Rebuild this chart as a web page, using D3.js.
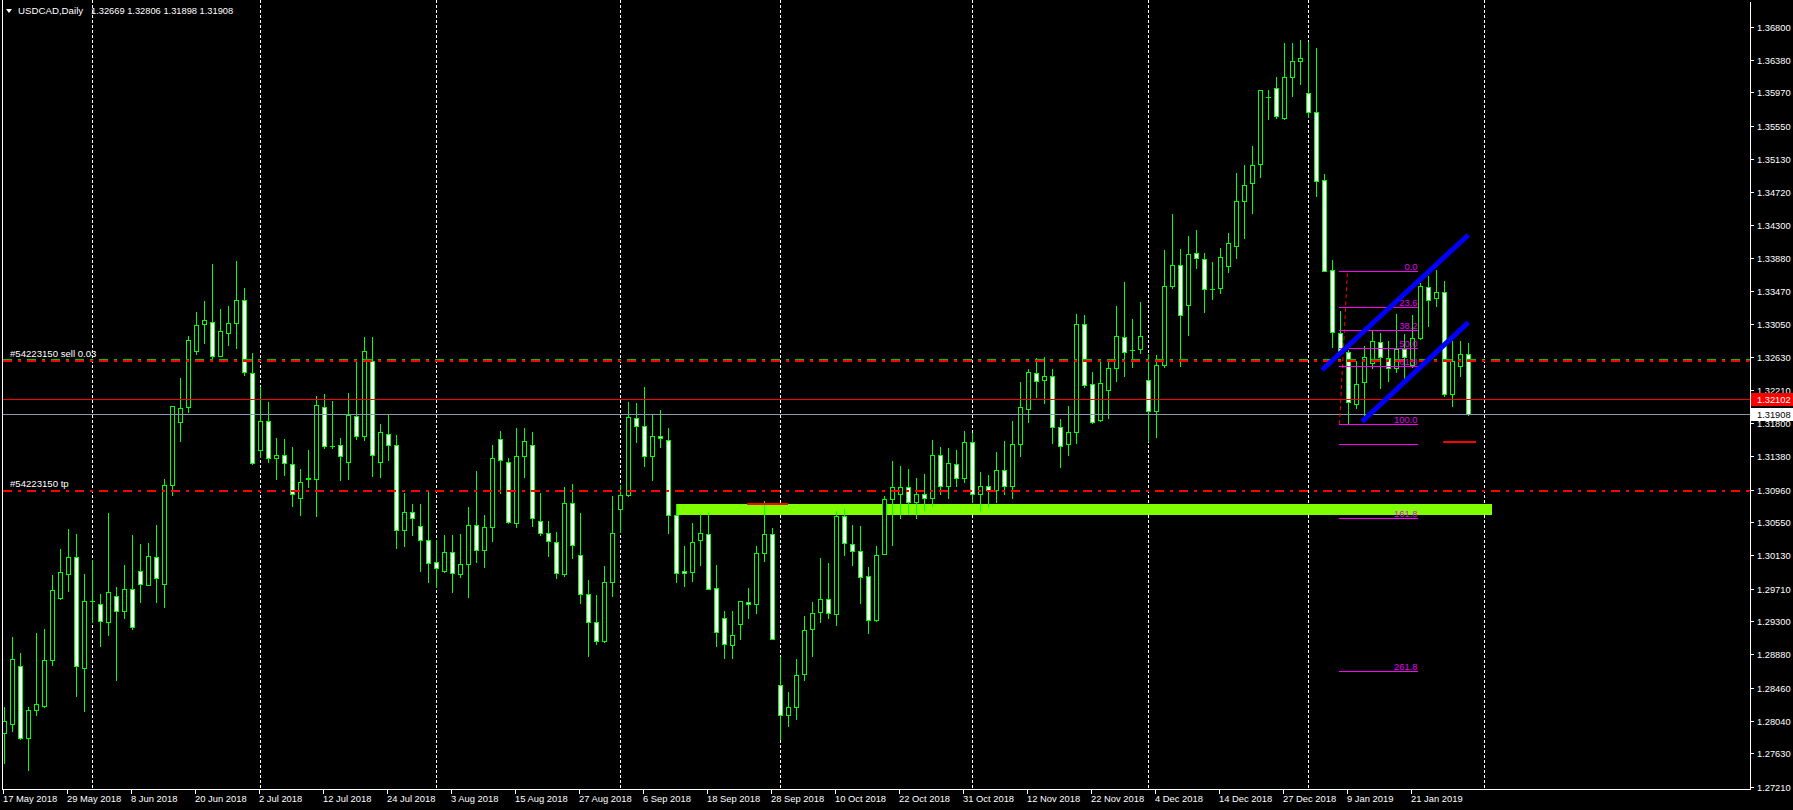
<!DOCTYPE html>
<html><head><meta charset="utf-8">
<script src="https://cdn.jsdelivr.net/npm/d3@7"></script>
<style>
html,body{margin:0;padding:0;background:#000;overflow:hidden}
svg{display:block}
text{font-family:"Liberation Sans",Arial,sans-serif}
</style>
</head><body>
<svg id="c" width="1793" height="810"></svg>
<script>
// ---------------- data ----------------
const open = [1.27886,1.28003,1.28729,1.27829,1.28173,1.28234,1.28803,1.29589,1.29889,1.30106,
1.28712,1.29550,1.29511,1.29285,1.29611,1.29424,1.29702,1.29928,1.29750,1.30106,
1.29763,1.31015,1.31810,1.32005,1.32714,1.33044,1.33070,1.32640,1.32931,1.33057,
1.33348,1.32427,1.31458,1.31823,1.31362,1.31393,1.31280,1.30850,1.31089,1.31089,
1.31997,1.31506,1.31519,1.31301,1.31884,1.31640,1.32583,1.31301,1.31658,1.31519,
1.30445,1.30671,1.30497,1.30319,1.30041,1.29936,1.30168,1.29890,1.30016,1.30508,
1.30193,1.30483,1.31593,1.31303,1.30534,1.31379,1.31518,1.30559,1.30407,1.30294,
1.29890,1.30786,1.30130,1.29638,1.29284,1.29053,1.29789,1.30710,1.30895,1.31858,
1.31757,1.31379,1.31631,1.31581,1.30635,1.29928,1.29915,1.30319,1.30395,1.29713,
1.29335,1.28994,1.29259,1.29537,1.29511,1.30155,1.30395,1.28489,1.28111,1.28212,
1.28628,1.29196,1.29419,1.29575,1.29394,1.30630,1.30269,1.30180,1.29865,1.29318,
1.30142,1.30836,1.30900,1.30990,1.30800,1.30900,1.30850,1.31400,1.31000,1.31280,
1.31100,1.31560,1.30900,1.31000,1.30950,1.31210,1.31000,1.31530,1.31972,1.32426,
1.32338,1.32388,1.31753,1.31530,1.31690,1.33044,1.32287,1.31842,1.32212,1.32489,
1.32880,1.32721,1.32729,1.32338,1.31947,1.32527,1.33524,1.33789,1.33284,1.33940,
1.33865,1.33486,1.33499,1.33776,1.34029,1.34597,1.34824,1.35063,1.35913,1.36022,
1.35652,1.36161,1.36363,1.35959,1.35719,1.34861,1.33726,1.32935,1.32691,1.32035,
1.32313,1.32552,1.32817,1.32615,1.32489,1.32729,1.32527,1.32868,1.33511,1.33373,
1.33448,1.32161,1.32515,1.32669];
const high = [1.28216,1.29098,1.28903,1.28220,1.29155,1.29198,1.29885,1.30211,1.30467,1.30402,
1.29893,1.30067,1.29641,1.30663,1.29728,1.30011,1.30385,1.30276,1.30284,1.30511,
1.31097,1.32020,1.32362,1.32892,1.33196,1.33335,1.33804,1.33239,1.33274,1.33839,
1.33500,1.32683,1.32249,1.32066,1.31610,1.31597,1.31497,1.31219,1.31458,1.32140,
1.32166,1.32079,1.31610,1.32179,1.32596,1.32883,1.32883,1.31784,1.31905,1.31645,
1.30915,1.30776,1.30776,1.30954,1.30328,1.30386,1.30386,1.30399,1.30740,1.31194,
1.30635,1.31522,1.31699,1.31358,1.31736,1.31736,1.31686,1.30916,1.30563,1.30424,
1.30988,1.31030,1.30664,1.29818,1.29629,1.29995,1.30878,1.31013,1.32065,1.32052,
1.32254,1.31905,1.31964,1.31736,1.30777,1.30247,1.30542,1.30647,1.30668,1.30008,
1.29427,1.29427,1.29549,1.29722,1.30247,1.30811,1.30475,1.28851,1.28405,1.28822,
1.29364,1.29541,1.30096,1.30033,1.30685,1.30714,1.30508,1.30496,1.29978,1.30247,
1.30878,1.31320,1.31257,1.31219,1.31100,1.31150,1.31585,1.31500,1.31480,1.31459,
1.31699,1.31669,1.31177,1.31143,1.31430,1.31572,1.31825,1.32313,1.32481,1.32615,
1.32628,1.32477,1.31850,1.32014,1.33175,1.33162,1.32447,1.32594,1.32607,1.33276,
1.33579,1.33112,1.33326,1.32670,1.32658,1.33982,1.34437,1.33995,1.34159,1.34235,
1.33945,1.33831,1.34008,1.34193,1.34954,1.35055,1.35295,1.36000,1.36001,1.36165,
1.36594,1.36594,1.36632,1.36607,1.36531,1.34941,1.33856,1.33213,1.32716,1.32586,
1.32767,1.32960,1.32935,1.32830,1.33175,1.32918,1.33162,1.33562,1.33654,1.33730,
1.33591,1.32834,1.32834,1.32806];
const low = [1.27503,1.27916,1.27808,1.27417,1.28112,1.28220,1.28751,1.29580,1.29676,1.28351,
1.28168,1.29285,1.28990,1.29124,1.28559,1.29342,1.29198,1.29546,1.29750,1.29546,
1.29481,1.30893,1.31575,1.31944,1.32675,1.32814,1.32609,1.32640,1.32783,1.32749,
1.32401,1.31284,1.31371,1.31306,1.31097,1.31141,1.30754,1.30641,1.30997,1.30632,
1.31480,1.31488,1.31084,1.31097,1.31597,1.31588,1.31132,1.31119,1.31336,1.30228,
1.30241,1.30389,1.29937,1.29798,1.29733,1.29924,1.29671,1.29861,1.29608,1.30050,
1.29987,1.30315,1.30917,1.30542,1.30491,1.31122,1.30504,1.30382,1.30126,1.29848,
1.29873,1.30100,1.29524,1.28864,1.29015,1.29032,1.29621,1.30420,1.30883,1.31564,
1.31261,1.31085,1.31501,1.30416,1.29797,1.29747,1.29810,1.30012,1.29701,1.28990,
1.28839,1.28839,1.29078,1.29343,1.29406,1.30062,1.29070,1.27816,1.27981,1.28060,
1.28561,1.28864,1.29293,1.29343,1.29255,1.30138,1.30008,1.29533,1.29154,1.29305,
1.30142,1.30264,1.30600,1.30650,1.30600,1.30700,1.30750,1.30900,1.30850,1.31000,
1.31050,1.30800,1.30700,1.30750,1.30800,1.30900,1.30850,1.31387,1.31816,1.32132,
1.32056,1.31543,1.31249,1.31396,1.31543,1.32258,1.31804,1.31825,1.31858,1.32334,
1.32397,1.32510,1.32679,1.31576,1.31627,1.32510,1.33499,1.32523,1.32914,1.33759,
1.33204,1.33368,1.33436,1.33709,1.33886,1.34138,1.34445,1.34908,1.35631,1.35652,
1.35640,1.35930,1.36073,1.35665,1.34668,1.33713,1.32763,1.32680,1.31787,1.31993,
1.31837,1.32489,1.32245,1.32334,1.32447,1.32342,1.32502,1.32859,1.33028,1.33280,
1.32144,1.32018,1.32388,1.31898];
const close = [1.28034,1.28816,1.27829,1.28173,1.28251,1.28807,1.29689,1.29915,1.30106,1.28729,
1.29550,1.29550,1.29298,1.29663,1.29424,1.29702,1.29229,1.29763,1.30119,1.29841,
1.31023,1.32010,1.31984,1.32844,1.33031,1.33096,1.32640,1.32957,1.33061,1.33348,
1.32444,1.31297,1.31823,1.31362,1.31393,1.31293,1.30902,1.31054,1.31106,1.32023,
1.31514,1.31506,1.31380,1.31901,1.31640,1.32705,1.31393,1.31684,1.31519,1.30445,
1.30680,1.30597,1.30319,1.30037,1.29967,1.30168,1.29903,1.30016,1.30508,1.30193,
1.30483,1.31354,1.31328,1.30546,1.31379,1.31568,1.30597,1.30407,1.30306,1.29903,
1.30786,1.30256,1.29638,1.29284,1.29045,1.29789,1.30407,1.30887,1.31871,1.31757,
1.31379,1.31631,1.31606,1.30635,1.29903,1.29903,1.30294,1.30407,1.29701,1.29158,
1.29007,1.29120,1.29549,1.29511,1.30155,1.30395,1.29070,1.28111,1.28212,1.28616,
1.29183,1.29398,1.29575,1.29406,1.30630,1.30281,1.30180,1.29852,1.29310,1.30130,
1.30836,1.30988,1.30990,1.30800,1.30900,1.30850,1.31400,1.31000,1.31290,1.31100,
1.31560,1.30900,1.31000,1.30950,1.31210,1.31000,1.31530,1.31997,1.32439,1.32325,
1.32388,1.31753,1.31505,1.31682,1.33044,1.32283,1.31816,1.32300,1.32489,1.32893,
1.32691,1.32721,1.32893,1.31947,1.32527,1.33524,1.33789,1.33158,1.33928,1.33877,
1.33486,1.33486,1.33890,1.34066,1.34597,1.34798,1.35051,1.35997,1.35913,1.35669,
1.36161,1.36363,1.36401,1.35719,1.34849,1.33713,1.32944,1.32691,1.32060,1.32287,
1.32628,1.32830,1.32628,1.32489,1.32729,1.32628,1.32868,1.33524,1.33347,1.33448,
1.32161,1.32578,1.32666,1.31908];

const dateLabels = ["17 May 2018","29 May 2018","8 Jun 2018","20 Jun 2018","2 Jul 2018","12 Jul 2018",
"24 Jul 2018","3 Aug 2018","15 Aug 2018","27 Aug 2018","6 Sep 2018","18 Sep 2018","28 Sep 2018",
"10 Oct 2018","22 Oct 2018","31 Oct 2018","12 Nov 2018","22 Nov 2018","4 Dec 2018","14 Dec 2018",
"27 Dec 2018","9 Jan 2019","21 Jan 2019"];
const dateLabelBars = [0,8,16,24,32,40,48,56,64,72,80,88,96,104,112,120,128,136,144,152,160,168,176];
const monthStartBars = [11,32,54,77,97,121,143,163,185];
const priceTicks = ["1.36800","1.36380","1.35970","1.35550","1.35130","1.34720","1.34300","1.33880",
"1.33470","1.33050","1.32630","1.32210","1.31800","1.31380","1.30960","1.30550","1.30130","1.29710",
"1.29300","1.28880","1.28460","1.28040","1.27630","1.27210"];

const symbolName = "USDCAD,Daily";
const lastOHLC = ["1.32669","1.32806","1.31898","1.31908"];
const bidPrice = 1.31908;
const alertPrice = 1.32102;
const orderPrice = 1.32600;
const tpPrice = 1.30960;
const orderLabel = "#54223150 sell 0.03";
const tpLabel = "#54223150 tp";
const zoneBars = [84, 186];
const zonePrices = [1.30641, 1.30777];
const fibBars = [167, 168, 176.75];
const fibPrices = [1.31787, 1.33714]; // 100 level, 0 level
const fibLevels = [0, 23.6, 38.2, 50, 61.8, 100, 113, 161.8, 261.8];
const fibLabels = ["0.0","23.6","38.2","50.0","61.8","100.0","","161.8","261.8"];
const channelUpper = [[164.75, 1.32468], [183.04, 1.34172]];
const channelLower = [[169.75, 1.31816], [183.04, 1.33070]];
const redMarks = [[92.9, 98, 1.30794], [179.9, 184, 1.31575]];

// ---------------- drawing ----------------
const W = 1793, H = 810;
const svg = d3.select('#c');
const x = d3.scaleLinear().domain([0, 185]).range([4, 1484]);
const y = d3.scaleLinear().domain([1.27210, 1.36800]).range([786.7, 26.7]);
const py = v => Math.round(y(v));
const plotR = 1750, plotB = 789;

svg.append('rect').attr('width', W).attr('height', H).attr('fill', '#000');

const plot = svg.append('g');

// month grid
plot.append('g').selectAll('line').data(monthStartBars).join('line')
  .attr('x1', d => x(d) + 0.5).attr('x2', d => x(d) + 0.5)
  .attr('y1', 0).attr('y2', plotB)
  .attr('stroke', '#ffffff').attr('stroke-dasharray', '3,2');

// zone band
plot.append('rect')
  .attr('x', x(zoneBars[0])).attr('width', x(zoneBars[1]) - x(zoneBars[0]))
  .attr('y', py(zonePrices[1])).attr('height', py(zonePrices[0]) - py(zonePrices[1]))
  .attr('fill', '#80ff00');

// candles
const bars = open.map((o, i) => ({ i, o, h: high[i], l: low[i], c: close[i] }));
const cg = plot.append('g').attr('shape-rendering', 'crispEdges');
const cs = cg.selectAll('g').data(bars).join('g');
cs.append('line')
  .attr('x1', d => x(d.i) + 0.5).attr('x2', d => x(d.i) + 0.5)
  .attr('y1', d => py(d.h)).attr('y2', d => py(d.l) + 1)
  .attr('stroke', '#00ff00');
cs.each(function (d) {
  const g = d3.select(this);
  const t = py(Math.max(d.o, d.c)), b = py(Math.min(d.o, d.c));
  const cx = x(d.i);
  if (b - t < 1) {
    g.append('line').attr('x1', cx - 2).attr('x2', cx + 3)
      .attr('y1', t + 0.5).attr('y2', t + 0.5).attr('stroke', '#00ff00');
  } else {
    g.append('rect').attr('x', cx - 1.5).attr('width', 4)
      .attr('y', t + 0.5).attr('height', b - t)
      .attr('fill', d.c > d.o ? '#000' : '#fff').attr('stroke', '#00ff00');
  }
});

// horizontal lines
const hl = plot.append('g').attr('shape-rendering', 'crispEdges');
hl.append('line').attr('x1', 3).attr('x2', plotR).attr('y1', py(bidPrice) + 0.5).attr('y2', py(bidPrice) + 0.5)
  .attr('stroke', '#8a9aaa');
hl.append('line').attr('x1', 3).attr('x2', plotR).attr('y1', py(alertPrice) + 0.5).attr('y2', py(alertPrice) + 0.5)
  .attr('stroke', '#ff0000');
hl.append('line').attr('x1', 3).attr('x2', plotR).attr('y1', py(orderPrice) - 0.5).attr('y2', py(orderPrice) - 0.5)
  .attr('stroke', '#00c000').attr('stroke-dasharray', '9,6,3,6');
hl.append('line').attr('x1', 3).attr('x2', plotR).attr('y1', py(orderPrice) + 1).attr('y2', py(orderPrice) + 1)
  .attr('stroke', '#ff0000').attr('stroke-width', 2).attr('stroke-dasharray', '9,6,3,6');
hl.append('line').attr('x1', 3).attr('x2', plotR).attr('y1', py(tpPrice) + 1).attr('y2', py(tpPrice) + 1)
  .attr('stroke', '#ff0000').attr('stroke-width', 2).attr('stroke-dasharray', '9,6,3,6');

// red marks
plot.append('g').selectAll('line').data(redMarks).join('line')
  .attr('x1', d => x(d[0])).attr('x2', d => x(d[1]))
  .attr('y1', d => py(d[2]) + 1).attr('y2', d => py(d[2]) + 1)
  .attr('stroke', '#ff0000').attr('stroke-width', 2);

// order labels
const lab = plot.append('g').attr('fill', '#ffffff').style('font-size', '9.6px');
lab.append('text').attr('x', 10).attr('y', py(orderPrice) - 3).text(orderLabel);
lab.append('text').attr('x', 10).attr('y', py(tpPrice) - 3).text(tpLabel);

// fibonacci
const fibY = lv => fibPrices[1] - (fibPrices[1] - fibPrices[0]) * lv / 100;
const fg = plot.append('g');
fg.append('line').attr('x1', x(fibBars[0]) - 0.5).attr('x2', x(fibBars[1]) - 0.5)
  .attr('y1', py(fibPrices[0])).attr('y2', py(fibPrices[1]))
  .attr('stroke', '#ff0000').attr('stroke-dasharray', '4,3');
fg.selectAll('line.lv').data(fibLevels).join('line').attr('class', 'lv')
  .attr('shape-rendering', 'crispEdges')
  .attr('x1', x(fibBars[0]) - 1).attr('x2', x(fibBars[2]))
  .attr('y1', d => py(fibY(d)) + 0.5).attr('y2', d => py(fibY(d)) + 0.5)
  .attr('stroke', '#ff00ff');
fg.selectAll('text').data(fibLevels).join('text')
  .attr('x', x(fibBars[2]) - 0.5).attr('y', d => py(fibY(d)) - 1.5)
  .attr('text-anchor', 'end').attr('fill', '#e000f0').style('font-size', '9.4px')
  .text((d, k) => fibLabels[k]);

// channel lines
const ln = d3.line().x(d => x(d[0])).y(d => y(d[1]));
plot.append('g').selectAll('path').data([channelUpper, channelLower]).join('path')
  .attr('d', ln).attr('stroke', '#0000ff').attr('stroke-width', 5).attr('fill', 'none');

// frame
const fr = svg.append('g').attr('shape-rendering', 'crispEdges').attr('stroke', '#ffffff');
fr.append('line').attr('x1', 2.5).attr('x2', 2.5).attr('y1', 0).attr('y2', plotB + 0.5);
fr.append('line').attr('x1', 2).attr('x2', plotR + 1).attr('y1', plotB + 0.5).attr('y2', plotB + 0.5);
fr.append('line').attr('x1', plotR + 0.5).attr('x2', plotR + 0.5).attr('y1', 2).attr('y2', plotB + 1);

// price axis
const ya = svg.append('g');
ya.selectAll('line').data(priceTicks).join('line').attr('shape-rendering', 'crispEdges')
  .attr('x1', plotR + 1).attr('x2', plotR + 4)
  .attr('y1', d => py(+d) + 0.5).attr('y2', d => py(+d) + 0.5).attr('stroke', '#fff');
ya.selectAll('text').data(priceTicks).join('text')
  .attr('x', plotR + 7).attr('y', d => py(+d) + 3.5)
  .attr('fill', '#fff').style('font-size', '9.3px').text(d => d);

// axis order marks
svg.append('line').attr('x1', plotR - 4).attr('x2', plotR).attr('y1', py(orderPrice) - 0.5).attr('y2', py(orderPrice) - 0.5).attr('stroke', '#00c000');
svg.append('line').attr('x1', plotR - 4).attr('x2', plotR).attr('y1', py(orderPrice) + 0.5).attr('y2', py(orderPrice) + 0.5).attr('stroke', '#ff0000');
svg.append('line').attr('x1', plotR - 4).attr('x2', plotR).attr('y1', py(tpPrice) + 0.5).attr('y2', py(tpPrice) + 0.5).attr('stroke', '#ff0000');

// price boxes
const boxes = [[alertPrice, '#ff0000', '#ffffff'], [bidPrice, '#ffffff', '#000000']];
const bx = svg.append('g');
bx.selectAll('rect').data(boxes).join('rect')
  .attr('x', plotR + 1).attr('width', W - plotR - 1)
  .attr('y', d => py(d[0]) - 6).attr('height', 13).attr('fill', d => d[1]);
bx.selectAll('text').data(boxes).join('text')
  .attr('x', plotR + 7).attr('y', d => py(d[0]) + 4)
  .attr('fill', d => d[2]).style('font-size', '9.3px').text(d => d[0].toFixed(5));

// date axis
const xa = svg.append('g');
xa.selectAll('line').data(dateLabelBars).join('line').attr('shape-rendering', 'crispEdges')
  .attr('x1', d => x(d) - 0.5).attr('x2', d => x(d) - 0.5).attr('y1', plotB).attr('y2', plotB + 5)
  .attr('stroke', '#fff');
xa.selectAll('text').data(dateLabelBars).join('text')
  .attr('x', d => x(d) - 1).attr('y', 802)
  .attr('fill', '#fff').style('font-size', '9.4px').text((d, k) => dateLabels[k]);

// header
svg.append('path').attr('d', 'M6,9 L12,9 L9,13 Z').attr('fill', '#fff');
svg.append('text').attr('x', 18).attr('y', 14).attr('fill', '#fff').style('font-size', '9.7px').text(symbolName);
svg.append('text').attr('x', 91).attr('y', 14).attr('fill', '#fff').style('font-size', '9.3px').text(lastOHLC.join(' '));
</script>
</body></html>
